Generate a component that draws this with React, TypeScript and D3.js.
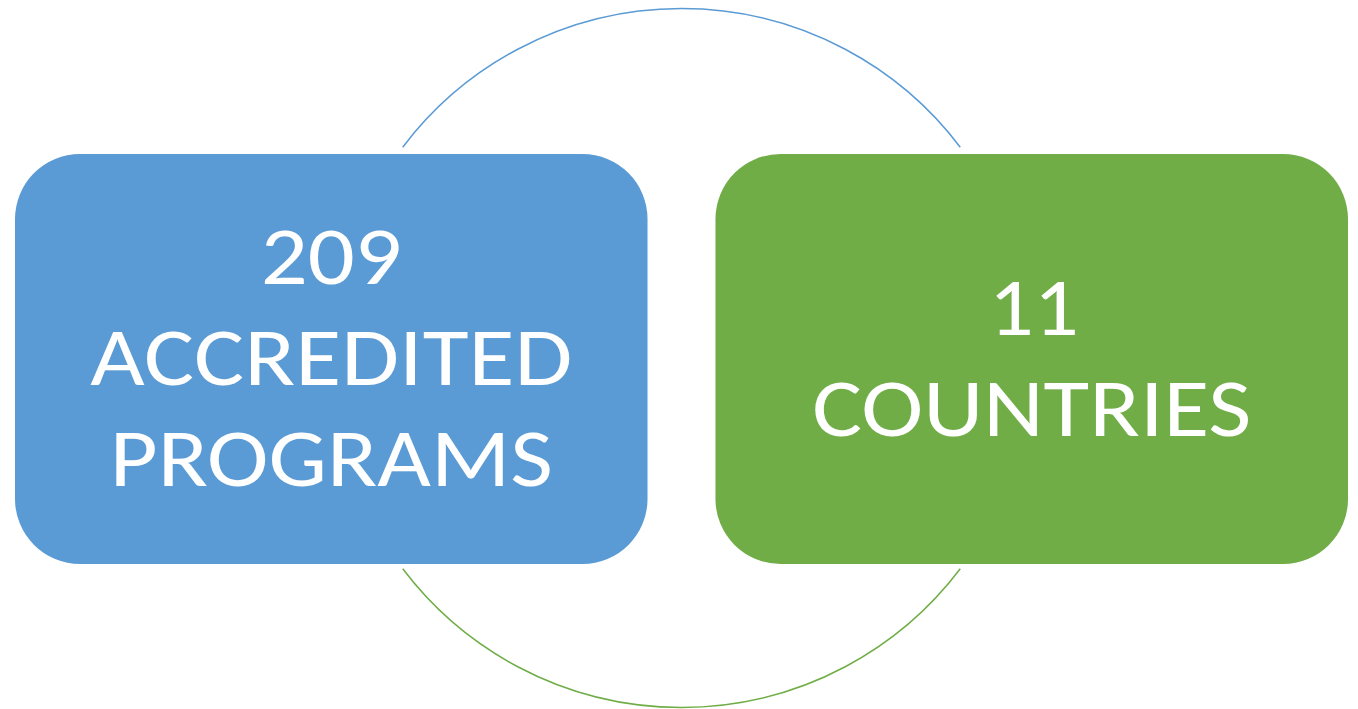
import React from "react";
import * as d3 from "d3";

const categories = ["ACCREDITED PROGRAMS", "COUNTRIES"];
const values = [209, 11];
const lineLabels = [
  ["209", "ACCREDITED", "PROGRAMS"],
  ["11", "COUNTRIES"],
];
const inkWidths = [
  [133, 474, 435],
  [82, 431],
];
const colors = ["#5B9BD5", "#70AD47"];

const W = 1358;
const H = 709;

export default function App() {
  const x = d3.scaleBand<number>().domain([0, 1]).range([15, 1348]).paddingInner(0.097);
  const boxTop = 154;
  const boxH = 410;
  const r = 65;
  const cx = 681.5;
  const cy = 358;
  const R = 349.5;
  const half = (52.9 * Math.PI) / 180;
  const topArc = d3.path();
  topArc.arc(cx, cy, R, -Math.PI / 2 - half, -Math.PI / 2 + half);
  const botArc = d3.path();
  botArc.arc(cx, cy, R, Math.PI / 2 + half, Math.PI / 2 - half, true);
  const lineH = 101;
  const fs = 82;

  return (
    <svg width={W} height={H} style={{ position: "absolute", left: 0, top: 0 }}>
      <rect width={W} height={H} fill="#fff" />
      <path d={topArc.toString()} fill="none" stroke={colors[0]} strokeWidth={1.5} />
      <path d={botArc.toString()} fill="none" stroke={colors[1]} strokeWidth={1.5} />
      {values.map((v, i) => {
        const bx = x(i)!;
        const bw = x.bandwidth();
        const lines = lineLabels[i];
        const midY = boxTop + boxH / 2;
        const firstBaseline = midY + 26 - ((lines.length - 1) * lineH) / 2;
        return (
          <g key={categories[i]}>
            <rect x={bx} y={boxTop} width={bw} height={boxH} rx={r} ry={r} fill={colors[i]} />
            {lines.map((t, j) => (
              <text
                key={j}
                x={bx + bw / 2 + (i === 1 && j === 0 ? 2 : 0)}
                y={firstBaseline + j * lineH}
                textAnchor="middle"
                fill="#fff"
                fontFamily="Carlito, Calibri, Lato, sans-serif"
                fontSize={fs}
                textLength={inkWidths[i][j] + 8}
                lengthAdjust="spacingAndGlyphs"
              >
                {t}
              </text>
            ))}
          </g>
        );
      })}
    </svg>
  );
}
